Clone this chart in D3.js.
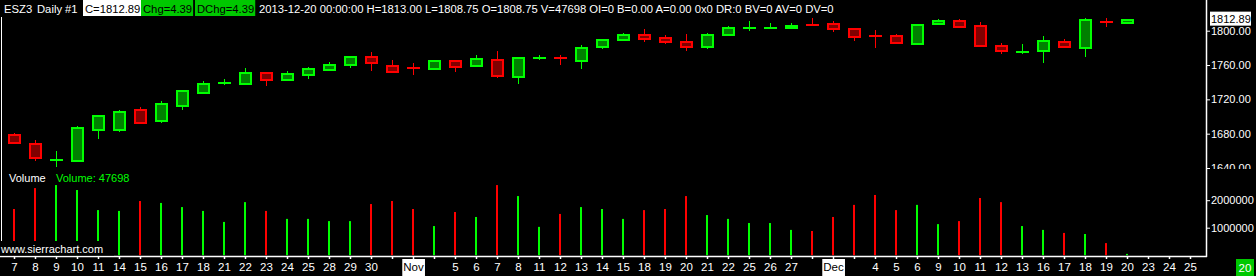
<!DOCTYPE html>
<html>
<head>
<meta charset="utf-8">
<script src="https://cdn.jsdelivr.net/npm/d3@7"></script>
<style>
  html, body { margin: 0; padding: 0; background: #000; }
  svg { display: block; }
  text { font-family: "Liberation Sans", Arial, sans-serif; font-size: 11px; }
</style>
</head>
<body>
<svg id="chart" width="1256" height="276"></svg>
<script>
// daily bars, ESZ3, 2013-10-07 .. 2013-12-20
var opens = [1678.25, 1667.5, 1649.5, 1648.5, 1684, 1684.5, 1707.25, 1695, 1712.5, 1727.75,
  1739.25, 1738.25, 1750.25, 1743, 1748.75, 1754.5, 1759.75, 1769, 1758.5, 1756.25,
  1755, 1764.25, 1758.5, 1765.5, 1745.75, 1768.5, 1769, 1765, 1780.75, 1788.75,
  1794.5, 1791, 1786.5, 1780.75, 1794.5, 1803.5, 1802.75, 1802.75, 1806.25, 1807.5,
  1801.5, 1793.5, 1793.5, 1784.75, 1807.5, 1811, 1805.5, 1781.75, 1775.5, 1776,
  1786.5, 1779.5, 1810.5, 1808.75];
var highs = [1680.75, 1672.5, 1659.75, 1689, 1701.5, 1707.25, 1710.75, 1718, 1729.5, 1741.5,
  1743.75, 1756.5, 1750.5, 1752.75, 1757.25, 1763.25, 1770.5, 1774.75, 1765.5, 1762,
  1766, 1766, 1771.75, 1776.25, 1769, 1771.25, 1771.75, 1783, 1790, 1797.25,
  1802, 1795, 1796.25, 1797.25, 1805.5, 1811.25, 1809, 1809, 1814.75, 1811,
  1803, 1800.5, 1796.25, 1807.5, 1813.5, 1813.5, 1810, 1785.75, 1784.5, 1793.75,
  1790, 1814.75, 1814.75, 1813];
var lows = [1668.5, 1647.75, 1641.5, 1648.25, 1674, 1682.25, 1691.5, 1692.75, 1707.5, 1727.5,
  1737, 1738, 1736, 1742.25, 1743.75, 1753.5, 1757, 1753.5, 1752, 1748.75,
  1754.75, 1752.25, 1758.25, 1744.5, 1738.25, 1765.5, 1760.5, 1755.75, 1779, 1788.5,
  1787.25, 1784, 1776.75, 1778.25, 1794.25, 1800, 1801.5, 1802.5, 1806, 1798.75,
  1788.25, 1780.25, 1784, 1784.5, 1807.25, 1803.75, 1781.5, 1773.25, 1773.25, 1762.75,
  1779.5, 1769.75, 1804, 1808.75];
var closes = [1668.75, 1651.25, 1649.75, 1686.25, 1700.25, 1705, 1692.75, 1714.25, 1729.5, 1737.5,
  1739.5, 1750.25, 1743, 1749.25, 1755, 1759.75, 1769, 1762, 1752.25, 1756,
  1764.25, 1757.25, 1766.75, 1747, 1767.75, 1768.75, 1766.75, 1779.5, 1788.75, 1794.5,
  1790, 1786.5, 1780.75, 1794.5, 1802.75, 1803.75, 1803, 1805.5, 1806, 1801.5,
  1792.25, 1793.25, 1785.25, 1806.25, 1811, 1804, 1781.75, 1776, 1775.75, 1787.5,
  1780.75, 1812, 1810.25, 1812.89];
var volumes = [1680000, 2440000, 2550000, 2370000, 1640000, 1610000, 1970000, 1900000, 1750000, 1610000,
  1210000, 1930000, 1610000, 1320000, 1320000, 1240000, 1240000, 1860000, 1970000, 1680000,
  1060000, 1570000, 1390000, 2550000, 2150000, 1030000, 1500000, 1750000, 1680000, 1320000,
  1640000, 1680000, 2150000, 1460000, 1320000, 1170000, 1170000, 920000, 880000, 1390000,
  1830000, 2190000, 1640000, 1830000, 1130000, 1240000, 2080000, 1930000, 1060000, 920000,
  810000, 770000, 440000, 47698];

// one label per bar slot (three empty future slots at the end); "" = hidden label
var xLabels = ["7", "8", "9", "10", "11", "14", "15", "16", "17", "18",
  "21", "22", "23", "24", "25", "28", "29", "30", "", "Nov",
  "", "5", "6", "7", "8", "11", "12", "13", "14", "15",
  "18", "19", "20", "21", "22", "25", "26", "27", "", "Dec",
  "", "4", "5", "6", "9", "10", "11", "12", "13", "16",
  "17", "18", "19", "20", "23", "24", "25"];
var monthLabels = ["Nov", "Dec"];

var priceTicks = [1640, 1680, 1720, 1760, 1800];
var volumeTicks = [1000000, 2000000];

var header = [
  { t: "ESZ3", x: 4 },
  { t: "Daily", x: 37 },
  { t: "#1", x: 65 },
  { t: "C=1812.89", x: 85, box: "#fff", fg: "#000" },
  { t: "Chg=4.39", x: 143, box: "#00c800", fg: "#000" },
  { t: "DChg=4.39", x: 197, box: "#00c800", fg: "#000" },
  { t: "2013-12-20 00:00:00 H=1813.00 L=1808.75 O=1808.75 V=47698 OI=0 B=0.00 A=0.00 0x0 DR:0 BV=0 AV=0 DV=0", x: 259 }
];

var UP = "#00ff00", UPFILL = "#008000", DN = "#ff0000", DNFILL = "#800000";

var svg = d3.select("#chart");
var width = 1256, height = 276;
var right = 1206, bottom = 256;

svg.append("rect").attr("width", width).attr("height", height).attr("fill", "#000");

var x = d3.scalePoint().domain(d3.range(xLabels.length)).range([14, 1190]);
var y = d3.scaleLinear().domain([1640, 1800]).range([168, 30.7]);
var yv = d3.scaleLinear().domain([0, 2000000]).range([255.2, 200.2]);

var bars = d3.range(closes.length).map(function (i) {
  return { i: i, o: opens[i], h: highs[i], l: lows[i], c: closes[i], v: volumes[i], up: closes[i] >= opens[i] };
});

// volume bars
svg.append("g")
  .selectAll("rect")
  .data(bars)
  .join("rect")
  .attr("x", d => x(d.i) - 1)
  .attr("width", 2)
  .attr("y", d => yv(d.v))
  .attr("height", d => yv(0) - yv(d.v))
  .attr("fill", d => d.up ? UP : DN);

// candles
var candle = svg.append("g")
  .attr("shape-rendering", "crispEdges")
  .selectAll("g")
  .data(bars)
  .join("g");

candle.append("line")
  .attr("x1", d => x(d.i) + 0.5)
  .attr("x2", d => x(d.i) + 0.5)
  .attr("y1", d => y(d.h))
  .attr("y2", d => y(d.l))
  .attr("stroke", d => d.up ? UP : DN)
  .attr("stroke-width", 1);

candle.each(function (d) {
  var g = d3.select(this);
  var top = y(Math.max(d.o, d.c)), bot = y(Math.min(d.o, d.c));
  if (bot - top < 2) {
    g.append("rect")
      .attr("x", x(d.i) - 6)
      .attr("width", 13)
      .attr("y", (top + bot) / 2 - 1)
      .attr("height", 2)
      .attr("fill", d.up ? UP : DN);
  } else {
    g.append("rect")
      .attr("x", x(d.i) - 5)
      .attr("width", 11)
      .attr("y", top)
      .attr("height", bot - top)
      .attr("fill", d.up ? UPFILL : DNFILL)
      .attr("stroke", d.up ? UP : DN)
      .attr("stroke-width", 2);
  }
});

// chart frame
svg.append("line").attr("x1", 1.5).attr("x2", 1.5).attr("y1", 17).attr("y2", 241)
  .attr("stroke", "#fff").attr("stroke-width", 1);
svg.append("line").attr("x1", right + 0.5).attr("x2", right + 0.5).attr("y1", 0).attr("y2", bottom + 1)
  .attr("stroke", "#fff").attr("stroke-width", 1.5);

// price axis (clipped at the volume region)
svg.append("clipPath").attr("id", "priceClip")
  .append("rect").attr("x", 0).attr("y", 0).attr("width", width).attr("height", 169);

var yAxis = svg.append("g")
  .attr("transform", "translate(" + (right + 1) + ",0)")
  .attr("clip-path", "url(#priceClip)")
  .call(d3.axisRight(y).tickValues(priceTicks).tickFormat(d3.format(".2f")).tickSize(3).tickPadding(1));

var vAxis = svg.append("g")
  .attr("transform", "translate(" + (right + 1) + ",0)")
  .call(d3.axisRight(yv).tickValues(volumeTicks).tickFormat(d3.format("d")).tickSize(3).tickPadding(1));

[yAxis, vAxis].forEach(function (a) {
  a.select(".domain").remove();
  a.selectAll("line").attr("stroke", "#fff");
  a.selectAll("text").attr("fill", "#fff").style("font-size", "11px")
    .style("font-family", "'Liberation Sans', Arial, sans-serif");
});

// last price marker
var lastY = y(closes[closes.length - 1]);
svg.append("rect").attr("x", 1210).attr("y", lastY - 8).attr("width", 41).attr("height", 14).attr("fill", "#fff");
svg.append("text").attr("x", 1211).attr("y", lastY + 3).attr("fill", "#000")
  .text(d3.format(".2f")(closes[closes.length - 1]));

// date axis
var xAxis = svg.append("g")
  .attr("transform", "translate(0," + bottom + ")")
  .call(d3.axisBottom(x).tickSize(3).tickSizeOuter(0).tickPadding(4).tickFormat(i => xLabels[i]));
xAxis.select(".domain").attr("d", "M0,0.5H" + (right + 1)).attr("stroke", "#fff").attr("stroke-width", 1.5);
xAxis.selectAll("line").attr("stroke", "#fff").attr("stroke-width", 1.5);
xAxis.selectAll("text").attr("fill", "#fff").style("font-size", "11.5px")
  .style("font-family", "'Liberation Sans', Arial, sans-serif");

xAxis.selectAll(".tick").each(function (i) {
  if (monthLabels.indexOf(xLabels[i]) < 0) return;
  var t = d3.select(this).select("text").attr("fill", "#000");
  var bb = t.node().getBBox();
  d3.select(this).insert("rect", "text")
    .attr("x", bb.x - 1).attr("y", 3).attr("width", bb.width + 2).attr("height", 17)
    .attr("fill", "#fff");
});

// current bar date badge
svg.append("rect").attr("x", 1236).attr("y", 259).attr("width", 18).attr("height", 17).attr("fill", "#00c800");
svg.append("text").attr("x", 1245).attr("y", 272).attr("text-anchor", "middle").attr("fill", "#fff")
  .style("font-size", "11.5px")
  .text(xLabels[closes.length - 1]);

// header line
var hdr = svg.append("g").style("font-size", "11.25px");
header.forEach(function (h) {
  var t = hdr.append("text").attr("x", h.x).attr("y", 12.5).attr("fill", h.fg || "#fff")
    .style("font-size", "11.25px").text(h.t);
  if (h.box) {
    var bb = t.node().getBBox();
    hdr.insert("rect", "text").attr("x", h.x - 2).attr("y", 0).attr("width", bb.width + 3).attr("height", 16)
      .attr("fill", h.box);
  }
});

// volume study label
svg.append("text").attr("x", 9).attr("y", 182).attr("fill", "#fff").text("Volume");
svg.append("text").attr("x", 56).attr("y", 182).attr("fill", UP)
  .text("Volume: " + volumes[volumes.length - 1]);

// watermark
svg.append("rect").attr("x", 0).attr("y", 241).attr("width", 114).attr("height", 14.5).attr("fill", "#000");
svg.append("text").attr("x", 1).attr("y", 252.5).attr("fill", "#fff").text("www.sierrachart.com");
</script>
</body>
</html>
